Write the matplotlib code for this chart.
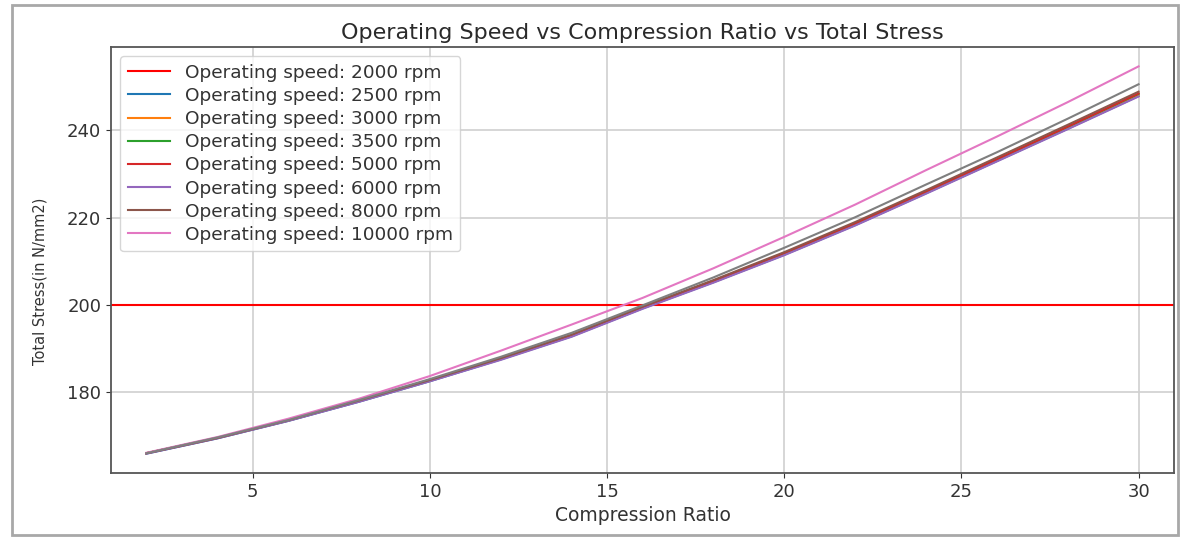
import matplotlib
matplotlib.use("Agg")
import matplotlib.pyplot as plt
from matplotlib.patches import Rectangle


# compression ratios sampled along the curves
compression_ratio = [2, 4, 6, 8, 10, 12, 14, 16, 18, 20, 22, 24, 26, 28, 30]

# total stress (N/mm2), one list per plotted line, in plotting order
stress_c0 = [165.9, 169.4, 173.4, 177.8, 182.5, 187.5, 192.8, 199.2, 205.2, 211.5, 218.3, 225.6, 233.0, 240.4, 247.9]
stress_c1 = [166.0, 169.5, 173.5, 177.9, 182.6, 187.6, 192.9, 199.3, 205.3, 211.7, 218.5, 225.8, 233.2, 240.7, 248.2]
stress_c2 = [166.0, 169.5, 173.5, 178.0, 182.7, 187.7, 193.0, 199.4, 205.4, 211.8, 218.6, 225.9, 233.3, 240.8, 248.4]
stress_c3 = [166.0, 169.5, 173.5, 178.0, 182.7, 187.7, 193.0, 199.4, 205.5, 211.9, 218.7, 226.0, 233.4, 240.9, 248.5]
stress_c4 = [165.9, 169.4, 173.4, 177.8, 182.5, 187.4, 192.7, 199.1, 205.1, 211.4, 218.2, 225.5, 232.9, 240.3, 247.8]
stress_c5 = [166.0, 169.5, 173.6, 178.1, 182.8, 187.8, 193.2, 199.6, 205.7, 212.1, 219.0, 226.3, 233.8, 241.3, 248.9]
stress_c6 = [166.1, 169.7, 173.9, 178.5, 183.7, 189.5, 195.5, 201.6, 208.4, 215.6, 223.0, 230.9, 238.6, 246.5, 254.7]
stress_c7 = [166.0, 169.6, 173.6, 178.2, 183.0, 188.1, 193.6, 199.9, 206.3, 213.1, 220.1, 227.6, 235.0, 242.7, 250.6]

all_stress = [stress_c0, stress_c1, stress_c2, stress_c3, stress_c4, stress_c5, stress_c6, stress_c7]

speeds = [2000, 2500, 3000, 3500, 5000, 6000, 8000, 10000]
stress_limit = 200

legend_labels = ["Operating speed: {} rpm".format(s) for s in speeds]


fig = plt.figure(figsize=(11.83, 5.38), dpi=100)
ax = fig.add_axes([0.0938, 0.1208, 0.8986, 0.7918])

ax.axhline(stress_limit, color="red")
for stress in all_stress:
	ax.plot(compression_ratio, stress)

ax.set_xlim(1.0, 31.0)
ax.set_xticks([5, 10, 15, 20, 25, 30])
ax.set_yticks([180, 200, 220, 240])
ax.grid(True, color="#d0d0d0", linewidth=1.2)
ax.tick_params(labelsize=13, colors="#333333")
for spine in ax.spines.values():
	spine.set_color("#555555")
	spine.set_linewidth(1.3)

ax.set_title("Operating Speed vs Compression Ratio vs Total Stress", fontsize=16, color="#2a2a2a")
ax.set_xlabel("Compression Ratio", fontsize=13.5, color="#333333")
ax.set_ylabel("Total Stress(in N/mm2)", fontsize=10.5, color="#333333")
ax.yaxis.set_label_coords(-0.06, 0.45)
ax.legend(legend_labels, loc="upper left", fontsize=13.3, labelspacing=0.28,
	handlelength=2.3, labelcolor="#333333")

# screenshot frame around the figure
fig.patches.append(Rectangle((12 / 1183, 3 / 538), 1166 / 1183, 530 / 538,
	transform=fig.transFigure, fill=False, edgecolor="#a8a8a8", linewidth=2))

fig.savefig("out.png", dpi=100)
